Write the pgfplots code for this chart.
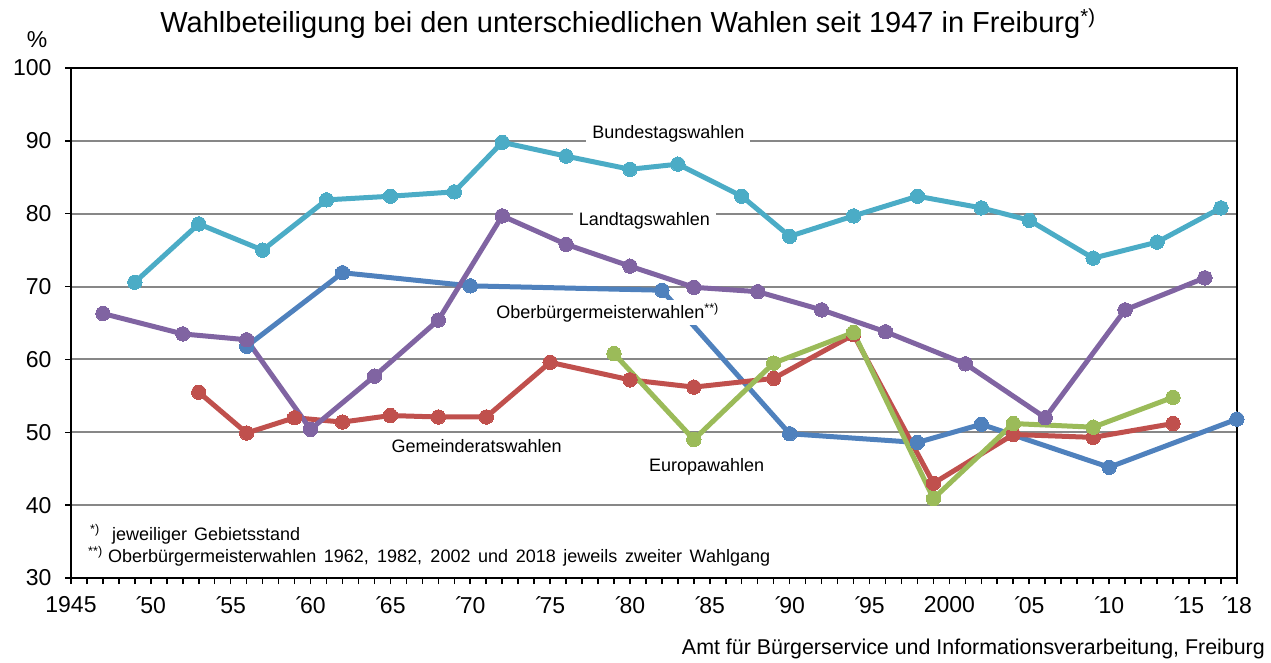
\documentclass[border=0pt]{standalone}
\usepackage{pgfplots}
\pgfplotsset{compat=1.18}
\usepackage{fontspec}
\setmainfont{Liberation Sans}
\definecolor{cBT}{HTML}{4BACC6}
\definecolor{cOB}{HTML}{4F81BD}
\definecolor{cGR}{HTML}{C0504D}
\definecolor{cLT}{HTML}{8064A2}
\definecolor{cEU}{HTML}{9BBB59}
\definecolor{cGrid}{HTML}{878787}
\newcommand{\ap}{´\kern-3pt}
\pgfplotsset{
  serie/.style={#1, line width=5pt, line join=round, mark=*, mark size=7.2pt,
    mark options={solid, fill=#1, draw=#1, line width=0pt}},
}
\tikzset{lbl/.style={fill=white, inner xsep=6pt, inner ysep=4pt, font=\fontsize{18}{18}\selectfont}}
\begin{document}
\begin{tikzpicture}[x=1pt,y=1pt]
\useasboundingbox (0,0) rectangle (1271,662);
\begin{axis}[
  at={(71pt,84pt)}, anchor=south west,
  width=1166pt, height=510pt, scale only axis,
  xmin=1945, xmax=2018, ymin=30, ymax=100,
  xtick={1945,1950,1955,1960,1965,1970,1975,1980,1985,1990,1995,2000,2005,2010,2015,2018},
  xticklabels={1945,\ap50,\ap55,\ap60,\ap65,\ap70,\ap75,\ap80,\ap85,\ap90,\ap95,2000,\ap05,\ap10,\ap15,\ap18},
  minor xtick={1946,...,2017},
  ytick={30,40,...,100},
  ymajorgrids, grid style={color=cGrid, line width=2pt},
  axis line style={line width=2pt, black},
  tick style={black, line width=1.5pt},
  major tick length=6pt, minor tick length=6pt,
  tick align=outside,
  xtick pos=bottom, ytick pos=left,
  tick label style={font=\fontsize{23}{23}\selectfont},
  xticklabel style={yshift=-9pt},
  yticklabel style={xshift=-10pt},
  /pgf/number format/assume math mode=true,
  clip=false,
]
\addplot[serie=cBT] coordinates {
(1949,70.6) (1953,78.6) (1957,75.0) (1961,81.9) (1965,82.4) (1969,83.0)
(1972,89.8) (1976,87.9) (1980,86.1) (1983,86.8) (1987,82.4) (1990,76.9)
(1994,79.7) (1998,82.4) (2002,80.8) (2005,79.1) (2009,73.9) (2013,76.1) (2017,80.8)};
\addplot[serie=cOB] coordinates {
(1956,61.8) (1962,71.9) (1970,70.1) (1982,69.5) (1990,49.8) (1998,48.6)
(2002,51.1) (2010,45.2) (2018,51.8)};
\addplot[serie=cGR] coordinates {
(1953,55.5) (1956,49.9) (1959,52.0) (1962,51.4) (1965,52.3) (1968,52.1)
(1971,52.1) (1975,59.6) (1980,57.2) (1984,56.2) (1989,57.4) (1994,63.4)
(1999,43.0) (2004,49.7) (2009,49.3) (2014,51.2)};
\addplot[serie=cLT] coordinates {
(1947,66.3) (1952,63.5) (1956,62.7) (1960,50.4) (1964,57.7) (1968,65.4)
(1972,79.7) (1976,75.8) (1980,72.8) (1984,69.9) (1988,69.3) (1992,66.8)
(1996,63.8) (2001,59.4) (2006,52.0) (2011,66.8) (2016,71.2)};
\addplot[serie=cEU] coordinates {
(1979,60.8) (1984,49.0) (1989,59.5) (1994,63.7) (1999,40.9) (2004,51.2)
(2009,50.7) (2014,54.8)};
\node[lbl] at (axis cs:1982.4,91.0) {Bundestagswahlen};
\node[lbl] at (axis cs:1980.9,79.0) {Landtagswahlen};
\node[lbl, inner ysep=3pt] at (axis cs:1978.6,66.4) {Oberbürgermeisterwahlen\textsuperscript{**)}};
\node[lbl] at (axis cs:1970.4,48.1) {Gemeinderatswahlen};
\node[font=\fontsize{18}{18}\selectfont] at (axis cs:1984.8,45.2) {Europawahlen};
\end{axis}
\node[anchor=base, font=\fontsize{29}{29}\selectfont] at (628,629) {Wahlbeteiligung bei den unterschiedlichen Wahlen seit 1947 in Freiburg\textsuperscript{*)}};
\node[anchor=base, font=\fontsize{23}{23}\selectfont] at (37,614) {\%};
\node[anchor=base west, inner sep=0pt, font=\fontsize{18}{18}\selectfont] at (90,122) {\textsuperscript{*)}};
\node[anchor=base west, inner sep=0pt, font=\fontsize{18}{18}\selectfont] at (112,122) {\makebox[188pt][s]{jeweiliger Gebietsstand}};
\node[anchor=base west, inner sep=0pt, font=\fontsize{18}{18}\selectfont] at (88,100) {\textsuperscript{**)}};
\node[anchor=base west, inner sep=0pt, font=\fontsize{18}{18}\selectfont] at (108,100) {\makebox[662pt][s]{Oberbürgermeisterwahlen 1962, 1982, 2002 und 2018 jeweils zweiter Wahlgang}};
\node[anchor=base east, inner sep=0pt, font=\fontsize{21.4}{21.4}\selectfont] at (1265,8) {Amt für Bürgerservice und Informationsverarbeitung, Freiburg};
\end{tikzpicture}
\end{document}
